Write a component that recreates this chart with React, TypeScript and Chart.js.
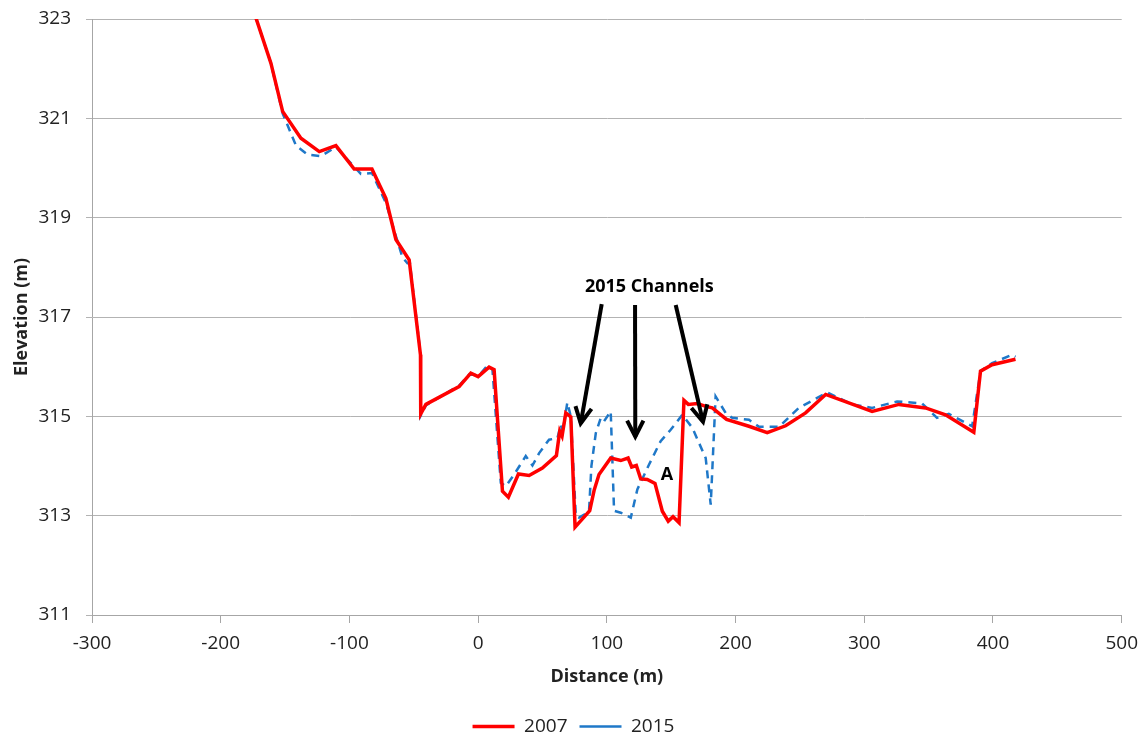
import React, { useEffect, useRef } from "react";
import { Chart, registerables } from "chart.js";

Chart.register(...registerables);

// ---- Data (distance m, elevation m) ----
const dist2007 = [-173, -161, -151.9, -137.7, -123.4, -110.5, -96.3, -82.5, -71.7, -63.9, -53.6, -44.8, -44.6, -40.6, -14.8, -5.7, 0, 8.5, 12.4, 18.9, 23.5, 31.3, 39.6, 49.9, 60.8, 63.4, 65.2, 68.1, 72, 75.3, 86.7, 90.1, 93.9, 103, 110.8, 116.5, 119.3, 122.9, 126.3, 131.4, 137.4, 143.1, 147.7, 151.4, 156.1, 159.9, 163.3, 170.3, 176.8, 181.9, 193, 210.4, 224.6, 238.9, 254.4, 270, 306.1, 326.9, 347.6, 363.1, 385.1, 390.3, 399.3, 417.5];
const elev2007 = [323.05, 322.11, 321.14, 320.6, 320.33, 320.45, 319.98, 319.98, 319.39, 318.56, 318.15, 316.24, 315.05, 315.24, 315.6, 315.87, 315.8, 315.99, 315.94, 313.49, 313.37, 313.84, 313.81, 313.96, 314.21, 314.7, 314.6, 315.07, 314.99, 312.77, 313.1, 313.51, 313.83, 314.16, 314.11, 314.16, 313.98, 314.01, 313.74, 313.73, 313.65, 313.09, 312.89, 312.98, 312.86, 315.32, 315.24, 315.26, 315.2, 315.17, 314.94, 314.8, 314.67, 314.81, 315.07, 315.44, 315.1, 315.24, 315.17, 315.03, 314.68, 315.91, 316.04, 316.15];

const dist2015 = [-173, -161, -151.9, -141.5, -132.5, -122.1, -110.5, -91.1, -82.5, -71.7, -63.9, -58.8, -54.9, -53, -44.9, -44.7, -40.6, -14.8, -7, 0.8, 7.2, 11.1, 17.6, 21.5, 28, 37, 42.2, 47.4, 55.1, 61.6, 64.2, 65.6, 69.3, 72, 75.9, 78.4, 84.9, 86.2, 88, 91.4, 95.3, 97.8, 103, 105.6, 110.8, 118.6, 123.7, 132.8, 141.8, 149.6, 158.6, 166.4, 176.8, 180.7, 184.5, 192.3, 197.4, 210.4, 218.2, 233.7, 249.2, 271.2, 290.6, 306.1, 325.5, 344.9, 356.5, 365.7, 383.8, 390.3, 399.3, 414.8, 417.5];
const elev2015 = [323.05, 322.11, 321.1, 320.45, 320.27, 320.24, 320.42, 319.88, 319.9, 319.3, 318.63, 318.2, 318.08, 318.08, 316.28, 315.01, 315.22, 315.62, 315.84, 315.83, 316.02, 315.95, 313.66, 313.59, 313.83, 314.2, 314.01, 314.26, 314.53, 314.56, 314.83, 314.68, 315.28, 315.0, 312.99, 312.96, 313.06, 313.12, 314.0, 314.66, 314.97, 314.9, 315.1, 313.1, 313.06, 312.96, 313.53, 314.03, 314.5, 314.73, 315.03, 314.77, 314.16, 313.22, 315.4, 315.07, 314.97, 314.93, 314.79, 314.79, 315.17, 315.48, 315.24, 315.17, 315.3, 315.26, 314.97, 315.05, 314.8, 315.91, 316.07, 316.24, 316.2];

const seriesLabels = ["2007", "2015"];

const xTicks = [-300, -200, -100, 0, 100, 200, 300, 400, 500];
const yTicks = [311, 313, 315, 317, 319, 321, 323];

// Annotation (data coordinates)
const channelLabel = "2015 Channels";
const channelLabelPos = [133, 317.6];
const arrowTails = [[96.0, 317.26], [121.9, 317.24], [153.5, 317.24]];
const arrowTips = [[79.7, 314.86], [122.1, 314.59], [174.7, 314.89]];
const pointLabel = "A";
const pointLabelPos = [146.7, 313.82];

const FONT = "'Open Sans', 'DejaVu Sans', sans-serif";

const annotationPlugin = {
  id: "channelAnnotations",
  afterDatasetsDraw(chart: any) {
    const { ctx, scales } = chart;
    const xs = scales.x;
    const ys = scales.y;
    ctx.save();
    ctx.strokeStyle = "#000";
    ctx.fillStyle = "#000";
    ctx.lineWidth = 4;
    ctx.lineCap = "butt";
    ctx.lineJoin = "miter";
    for (let i = 0; i < arrowTails.length; i++) {
      const x0 = xs.getPixelForValue(arrowTails[i][0]);
      const y0 = ys.getPixelForValue(arrowTails[i][1]);
      const x1 = xs.getPixelForValue(arrowTips[i][0]);
      const y1 = ys.getPixelForValue(arrowTips[i][1]);
      const ang = Math.atan2(y1 - y0, x1 - x0);
      ctx.beginPath();
      ctx.moveTo(x0, y0);
      ctx.lineTo(x1, y1);
      ctx.stroke();
      const L = 18;
      const a = 0.47;
      ctx.beginPath();
      ctx.moveTo(x1 - L * Math.cos(ang - a), y1 - L * Math.sin(ang - a));
      ctx.lineTo(x1, y1);
      ctx.lineTo(x1 - L * Math.cos(ang + a), y1 - L * Math.sin(ang + a));
      ctx.stroke();
    }
    ctx.font = `bold 18px ${FONT}`;
    ctx.textAlign = "center";
    ctx.textBaseline = "middle";
    ctx.fillText(channelLabel, xs.getPixelForValue(channelLabelPos[0]), ys.getPixelForValue(channelLabelPos[1]));
    ctx.fillText(pointLabel, xs.getPixelForValue(pointLabelPos[0]), ys.getPixelForValue(pointLabelPos[1]));
    ctx.restore();
  },
};

export default function App() {
  const canvasRef = useRef<HTMLCanvasElement | null>(null);

  useEffect(() => {
    const canvas = canvasRef.current;
    if (!canvas) return;
    const d2007 = dist2007.map((x, i) => ({ x, y: elev2007[i] }));
    const d2015 = dist2015.map((x, i) => ({ x, y: elev2015[i] }));
    const chart = new Chart(canvas, {
      type: "line",
      data: {
        datasets: [
          {
            label: seriesLabels[0],
            data: d2007,
            borderColor: "#FF0000",
            backgroundColor: "#FF0000",
            borderWidth: 3.5,
            pointRadius: 0,
            tension: 0,
            pointStyle: "line",
          },
          {
            label: seriesLabels[1],
            data: d2015,
            borderColor: "#1F78C8",
            backgroundColor: "#1F78C8",
            borderWidth: 2.5,
            borderDash: [8, 6],
            pointRadius: 0,
            tension: 0,
            pointStyle: "line",
          },
        ],
      },
      options: {
        responsive: false,
        animation: false,
        events: [],
        layout: { padding: { top: 19, right: 24, left: 24, bottom: -10 } },
        plugins: {
          legend: {
            display: true,
            position: "bottom",
            labels: {
              usePointStyle: true,
              pointStyleWidth: 42,
              padding: 12,
              color: "#222",
              font: { family: FONT, size: 19 },
            },
          },
          tooltip: { enabled: false },
        },
        scales: {
          x: {
            type: "linear",
            min: -300,
            max: 500,
            afterBuildTicks: (s: any) => {
              s.ticks = xTicks.map((v) => ({ value: v }));
            },
            afterFit: (s: any) => {
              s.height = 90;
            },
            ticks: {
              color: "#222",
              font: { family: FONT, size: 19 },
              padding: 9,
              maxRotation: 0,
              autoSkip: false,
            },
            grid: {
              drawOnChartArea: false,
              drawTicks: true,
              tickLength: 8,
              color: "#A6A6A6",
            },
            border: { display: true, color: "#A6A6A6" },
            title: {
              display: true,
              text: "Distance (m)",
              color: "#222",
              font: { family: FONT, size: 18, weight: "bold" },
              padding: { top: 0, bottom: 17 },
            },
          },
          y: {
            type: "linear",
            min: 311,
            max: 323,
            afterBuildTicks: (s: any) => {
              s.ticks = yTicks.map((v) => ({ value: v }));
            },
            afterFit: (s: any) => {
              s.width = 68;
              s.paddingTop = 12;
              s.paddingBottom = 12;
            },
            ticks: {
              color: "#222",
              font: { family: FONT, size: 19 },
              padding: 15,
              autoSkip: false,
            },
            grid: {
              drawOnChartArea: true,
              drawTicks: true,
              tickLength: 6,
              color: "#B3B3B3",
            },
            border: { display: true, color: "#A6A6A6" },
            title: {
              display: true,
              text: "Elevation (m)",
              color: "#222",
              font: { family: FONT, size: 18, weight: "bold" },
              padding: { top: -13, bottom: 0 },
            },
          },
        },
      },
      plugins: [annotationPlugin],
    } as any);
    return () => chart.destroy();
  }, []);

  return (
    <div style={{ position: "absolute", left: 0, top: 0, width: 1147, height: 736, background: "#fff" }}>
      <canvas ref={canvasRef} width={1147} height={736} />
    </div>
  );
}
